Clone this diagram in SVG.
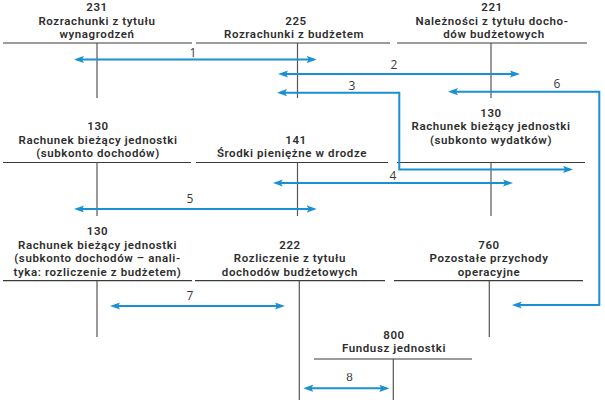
<svg xmlns="http://www.w3.org/2000/svg" width="605" height="400" viewBox="0 0 605 400">
<style>
  .t { font-family: Roboto, "Liberation Sans", sans-serif; font-weight: 600; font-size: 11.5px; letter-spacing: 0.6px; fill: #2e2e2e; text-anchor: middle; }
  .h { stroke: #3a3a3a; stroke-width: 1.2; fill: none; }
  .v { stroke: #555; stroke-width: 1.2; fill: none; }
  .a { stroke: #1a8fd2; stroke-width: 2; fill: none; marker-start: url(#ah); marker-end: url(#ah); }
  .n { font-family: "Open Sans", "Liberation Sans", sans-serif; font-size: 12px; fill: #3a3a3a; text-anchor: middle; }
  .s { font-family: "Liberation Serif", serif; font-size: 13px; fill: #3a3a3a; text-anchor: middle; }
</style>
<defs>
  <marker id="ah" viewBox="0 0 10 8" refX="7" refY="4" markerWidth="10" markerHeight="8" markerUnits="userSpaceOnUse" orient="auto-start-reverse">
    <path d="M0,0.4 L10,4 L0,7.6 L2,4 Z" fill="#1a8fd2"/>
  </marker>
</defs>
<rect width="605" height="400" fill="#fff"/>

<g id="acc231">
  <text class="t" x="97" y="11">231</text>
  <text class="t" x="97" y="24.5">Rozrachunki z tytułu</text>
  <text class="t" x="97" y="38">wynagrodzeń</text>
  <line class="h" x1="3" y1="43" x2="192" y2="43"/>
  <line class="v" x1="97" y1="43" x2="97" y2="98"/>
</g>
<g id="acc225">
  <text class="t" x="296" y="24.5">225</text>
  <text class="t" x="294" y="38">Rozrachunki z budżetem</text>
  <line class="h" x1="196" y1="43" x2="390" y2="43"/>
  <line class="v" x1="297.5" y1="43" x2="297.5" y2="98"/>
</g>
<g id="acc221">
  <text class="t" x="492" y="11">221</text>
  <text class="t" x="492" y="24.5">Należności z tytułu docho-</text>
  <text class="t" x="494" y="38">dów budżetowych</text>
  <line class="h" x1="397" y1="43" x2="587" y2="43"/>
  <line class="v" x1="491" y1="43" x2="491" y2="98"/>
</g>

<g id="acc130a">
  <text class="t" x="98" y="130">130</text>
  <text class="t" x="98" y="143.5">Rachunek bieżący jednostki</text>
  <text class="t" x="98" y="157">(subkonto dochodów)</text>
  <line class="h" x1="3" y1="162.5" x2="191" y2="162.5"/>
  <line class="v" x1="97" y1="162.5" x2="97" y2="216"/>
</g>
<g id="acc141">
  <text class="t" x="296" y="143.5">141</text>
  <text class="t" x="292" y="157">Środki pieniężne w drodze</text>
  <line class="h" x1="196" y1="162.5" x2="388" y2="162.5"/>
  <line class="v" x1="297.5" y1="162.5" x2="297.5" y2="216"/>
</g>
<g id="acc130b">
  <text class="t" x="491" y="116.5">130</text>
  <text class="t" x="491" y="130">Rachunek bieżący jednostki</text>
  <text class="t" x="491" y="143.5">(subkonto wydatków)</text>
  <line class="h" x1="397" y1="162.5" x2="585" y2="162.5"/>
  <line class="v" x1="491" y1="162.5" x2="491" y2="216"/>
</g>

<g id="acc130c">
  <text class="t" x="97.5" y="235">130</text>
  <text class="t" x="97.5" y="248.5">Rachunek bieżący jednostki</text>
  <text class="t" x="97.5" y="262">(subkonto dochodów – anali-</text>
  <text class="t" x="97.5" y="275.5">tyka: rozliczenie z budżetem)</text>
  <line class="h" x1="3" y1="280.7" x2="192" y2="280.7"/>
  <line class="v" x1="97" y1="280.7" x2="97" y2="337"/>
</g>
<g id="acc222">
  <text class="t" x="290" y="248.5">222</text>
  <text class="t" x="290" y="262">Rozliczenie z tytułu</text>
  <text class="t" x="290" y="275.5">dochodów budżetowych</text>
  <line class="h" x1="195" y1="280.7" x2="385" y2="280.7"/>
  <line class="v" x1="299.3" y1="280.7" x2="299.3" y2="400"/>
</g>
<g id="acc760">
  <text class="t" x="489" y="248.5">760</text>
  <text class="t" x="489" y="262">Pozostałe przychody</text>
  <text class="t" x="489" y="275.5">operacyjne</text>
  <line class="h" x1="394" y1="280.7" x2="583" y2="280.7"/>
  <line class="v" x1="489.3" y1="280.7" x2="489.3" y2="337"/>
</g>
<g id="acc800">
  <text class="t" x="394" y="338.5">800</text>
  <text class="t" x="394" y="352">Fundusz jednostki</text>
  <line class="h" x1="314" y1="359" x2="472" y2="359"/>
  <line class="v" x1="393.3" y1="359" x2="393.3" y2="400"/>
</g>

<g id="connectors">
  <path class="a" d="M77,59.5 H313.7"/>
  <path class="a" d="M281,74 H517"/>
  <path class="a" d="M280,92.7 H399.3 V169.5 H570"/>
  <path class="a" d="M451,91.7 H599.3 V305 H514.7"/>
  <path class="a" d="M275.7,183 H510"/>
  <path class="a" d="M77,209 H313.7"/>
  <path class="a" d="M113,306 H282"/>
  <path class="a" d="M306.3,388.3 H386.3"/>
  <text class="n" x="193" y="57">1</text>
  <text class="n" x="394" y="68.5">2</text>
  <text class="n" x="352" y="89.5">3</text>
  <text class="n" x="557" y="87.5">6</text>
  <text class="n" x="393" y="179.5">4</text>
  <text class="n" x="190" y="202.5">5</text>
  <text class="n" x="190" y="299.5">7</text>
  <text class="s" x="349.5" y="380.5">8</text>
</g>
</svg>
